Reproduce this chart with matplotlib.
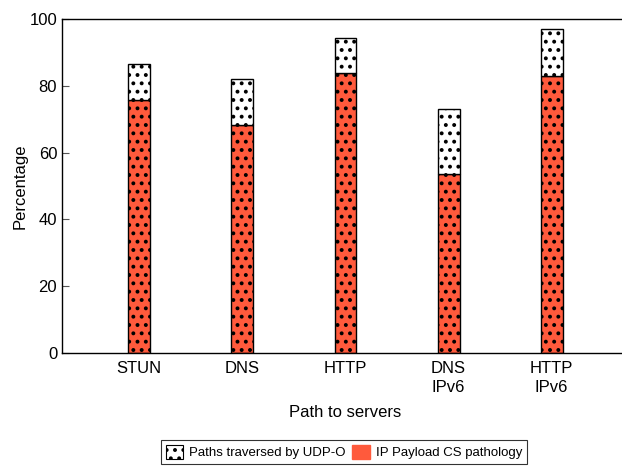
import numpy as np
import matplotlib
matplotlib.use("Agg")
import matplotlib.pyplot as plt
from matplotlib.patches import Patch

plt.rcParams['font.family'] = ['Liberation Sans', 'DejaVu Sans']
plt.rcParams['hatch.linewidth'] = 1.6
plt.rcParams['hatch.color'] = 'black'

categories = ["STUN", "DNS", "HTTP", "DNS\nIPv6", "HTTP\nIPv6"]
ip_payload = [75.7, 68.2, 83.8, 53.5, 82.9]
udp_o_total = [86.5, 82.0, 94.3, 73.0, 97.0]

red = '#ff5a3c'

fig = plt.figure(figsize=(6.22, 4.66), dpi=100)
ax = fig.add_axes([62/622, 1-353/466, 567/622, 334/466])

x = np.arange(len(categories))
w = 0.213
extra = np.array(udp_o_total) - np.array(ip_payload)
ax.bar(x, ip_payload, w, color=red, edgecolor='black', linewidth=1.0, hatch='..')
ax.bar(x, extra, w, bottom=ip_payload, color='white', edgecolor='black', linewidth=1.0, hatch='..')

ax.set_xlim(-0.75, 4.75)
ax.set_ylim(0, 100)
ax.set_xticks(x)
ax.set_xticklabels(categories, fontsize=12, linespacing=1.3)
ax.set_yticks([0, 20, 40, 60, 80, 100])
ax.tick_params(axis='y', direction='in', right=True, labelsize=12, length=5, color='#555555')
ax.tick_params(axis='x', length=0, pad=6)
ax.set_ylabel("Percentage", fontsize=12)
ax.yaxis.set_label_coords(-34/567, 0.5)
ax.set_xlabel("Path to servers", fontsize=12, labelpad=7)
for s in ax.spines.values():
    s.set_linewidth(1.0)

handles = [Patch(facecolor='white', edgecolor='black', hatch='..', linewidth=0.8),
           Patch(facecolor=red, edgecolor=red)]
labels = ["Paths traversed by UDP-O", "IP Payload CS pathology"]
leg = fig.legend(handles, labels, loc='center', bbox_to_anchor=(344/622, 1-452/466), ncol=2,
                 fontsize=9.5, frameon=True, fancybox=False, edgecolor='black',
                 handlelength=1.3, handleheight=1.3, handletextpad=0.5, columnspacing=0.5,
                 borderpad=0.35)
leg.get_frame().set_linewidth(0.8)

fig.savefig("out.png", dpi=100)
